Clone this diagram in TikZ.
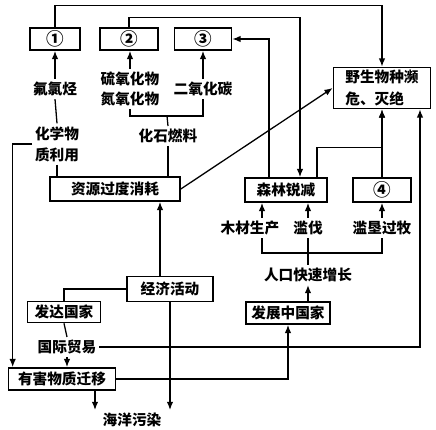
\documentclass[tikz,border=0pt]{standalone}
\usepackage{fontspec}
\newfontfamily\cjk{Noto Sans CJK SC}
\usetikzlibrary{arrows.meta,calc}

\begin{document}
\begin{tikzpicture}[>={Latex[length=7pt,width=5.5pt]},x=0.03cm,y=-0.03cm,line width=1.1pt,
    font=\cjk\bfseries\fontsize{12.5}{15}\selectfont]
  \tikzstyle{box}=[draw,line width=1.4pt,minimum height=0.66cm,inner sep=1pt]
  \tikzstyle{numbox}=[box,font=\cjk\bfseries\fontsize{15}{15}\selectfont]
  \tikzstyle{lbl}=[inner sep=2pt,align=center]
  \useasboundingbox (0,0) rectangle (436,430);
  % boxes and labels
  \node[numbox,minimum width=1.5cm] (n1) at (55,39) {①};
  \node[numbox,minimum width=1.74cm] (n2) at (129,39) {②};
  \node[numbox,minimum width=1.71cm] (n3) at (203,39) {③};
  \node[box,minimum width=2.91cm,minimum height=1.23cm,align=left,
    font=\cjk\bfseries\fontsize{12.5}{18}\selectfont] (wild) at (382,88) {野生物种濒\\危、灭绝};
  \node[lbl] (cfc) at (55,89) {氟氯烃};
  \node[lbl,font=\cjk\bfseries\fontsize{12.5}{17}\selectfont] (sox) at (130,89) {硫氧化物\\氮氧化物};
  \node[lbl] (co2) at (203,89) {二氧化碳};
  \node[lbl,font=\cjk\bfseries\fontsize{12.5}{18}\selectfont] (chem) at (57,144) {化学物\\质利用};
  \node[lbl] (fossil) at (168,136) {化石燃料};
  \node[box,minimum width=3.9cm,minimum height=0.72cm] (res) at (115,189) {资源过度消耗};
  \node[box,minimum width=2.46cm,minimum height=0.72cm] (forest) at (286,190) {森林锐减};
  \node[numbox,minimum width=1.74cm,minimum height=0.72cm] (n4) at (382,190) {④};
  \node[lbl] (wood) at (250,228) {木材生产};
  \node[lbl] (fell) at (308,228) {滥伐};
  \node[lbl] (graze) at (382,228) {滥垦过牧};
  \node[lbl] (pop) at (308,275) {人口快速增长};
  \node[box,minimum width=2.58cm,minimum height=0.75cm] (econ) at (170,289) {经济活动};
  \node[box,minimum width=2.19cm,minimum height=0.63cm] (dev) at (64,312) {发达国家};
  \node[box,minimum width=2.52cm] (dvg) at (288,313) {发展中国家};
  \node[lbl] (trade) at (67,347) {国际贸易};
  \node[box,minimum width=3.21cm] (harm) at (62,379) {有害物质迁移};
  \node[lbl] (sea) at (132,420) {海洋污染};
  % upper links
  \draw[->] (n1.north) -- ++(0,-22) -| (wild.north);
  \draw[->] (n2.north) -- ++(0,-10) -| ($(forest.north)+(14,0)$);
  \draw[->] ($(forest.north)+(-17,0)$) |- (n3.east);
  \draw[->] ($(forest.north)+(31,0)$) -- ++(0,-30) -| (wild.south);
  \draw[->] (n4.north) -- (wild.south);
  \draw[->] (res.east) -- (wild.west);
  \draw[->] (trade.east) -| ($(wild.south)+(38,0)$);
  \draw[->] (cfc.north) -- (n1.south);
  \draw[->] (sox.north) -- (sox.north |- n2.south);
  \draw[->] (co2.north) -- (n3.south);
  \draw (cfc.south) -- (chem.north);
  \coordinate (fb) at (167,116);
  \draw (sox.south) |- (fb) -| (co2.south);
  \draw (fb) -- (fossil.north);
  \draw (fossil.south) -- (fossil.south |- res.north);
  \draw (chem.south) -- (chem.south |- res.north);
  \draw[->] (chem.west) -| ($(harm.north west)+(5,0)$);
  % forest causes
  \coordinate (wt) at ($(wood.north)+(12,0)$);
  \draw[->] (wt) -- (wt |- forest.south);
  \draw[->] (fell.north) -- (fell.north |- forest.south);
  \draw[->] (graze.north) -- (n4.south);
  \coordinate (pb) at (308,253);
  \draw ($(wood.south)+(12,0)$) |- (pb) -| (graze.south);
  \draw (fell.south) -- (pb);
  \draw (pop.north) -- (pb);
  \draw[->] (dvg.north -| pop.south) -- (pop.south);
  % lower links
  \draw[->] (harm.east) -| (dvg.south);
  \coordinate (et) at ($(econ.north)+(-10,0)$);
  \draw[->] (et) -- (et |- res.south);
  \draw (econ.west) -| (dev.north);
  \draw (dev.south) -- (trade.north);
  \draw[->] (trade.south) -- (trade.south |- harm.north);
  \coordinate (ht) at ($(harm.south)+(33,0)$);
  \draw[->] (ht) -- (ht |- sea.north);
  \draw[->] (econ.south) -- (econ.south |- sea.north);
\end{tikzpicture}
\end{document}
